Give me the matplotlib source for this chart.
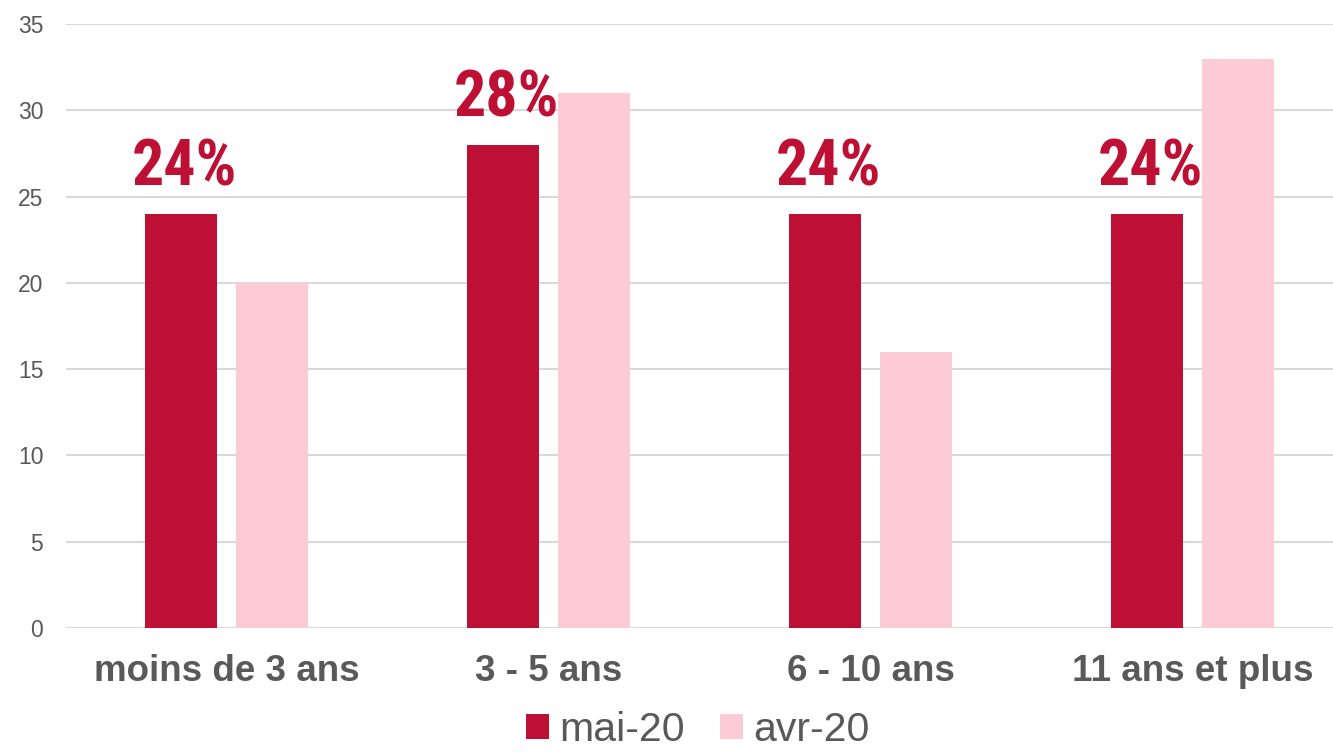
import matplotlib
matplotlib.use("Agg")
import matplotlib.pyplot as plt
import numpy as np

# data
categories = ["moins de 3 ans", "3 - 5 ans", "6 - 10 ans", "11 ans et plus"]
mai_20 = [24, 28, 24, 24]
avr_20 = [20, 31, 16, 33]
labels_mai = ["24%", "28%", "24%", "24%"]
series_names = ["mai-20", "avr-20"]

dark_red = "#BE0F34"
light_pink = "#FCCBD6"
grey_txt = "#595959"

plt.rcParams['font.family'] = ['Liberation Sans', 'DejaVu Sans']

fig = plt.figure(figsize=(13.33, 7.56), dpi=100)
ax = fig.add_axes([0.04914, 0.1693, 0.9662, 0.7989])

x = np.arange(len(categories))
w = 0.2236
off = 0.1413
b1 = ax.bar(x - off, mai_20, width=w, color=dark_red, label=series_names[0], zorder=3)
b2 = ax.bar(x + off, avr_20, width=w, color=light_pink, label=series_names[1], zorder=3)

# percent labels over the mai-20 bars (narrow bold face)
for xi, v, lab in zip(x, mai_20, labels_mai):
    ax.text(xi - off + 0.012, v + 0.9, lab, ha="center", va="bottom",
            fontsize=46, fontweight="bold", color=dark_red,
            family=['Roboto Condensed', 'DejaVu Sans'], stretch="condensed")

ax.set_xlim(-0.5, 3.5)
ax.set_ylim(0, 35)
ax.set_yticks(range(0, 36, 5))
ax.set_xticks(x)
ax.set_xticklabels(categories, fontsize=26.5, fontweight="bold", color=grey_txt)
ax.tick_params(axis="y", length=0, pad=16, labelsize=16.5, labelcolor=grey_txt)
ax.tick_params(axis="x", length=0, pad=19)

ax.yaxis.grid(True, color="#D9D9D9", linewidth=1.5, zorder=0)
ax.set_axisbelow(True)
for s in ax.spines.values():
    s.set_visible(False)

fig.legend(handles=[b1, b2], labels=series_names, loc="center",
           bbox_to_anchor=(698 / 1333, 0.034), ncol=2, frameon=False,
           fontsize=29.5, labelcolor=grey_txt, handlelength=0.55, handleheight=0.55,
           handletextpad=0.25, columnspacing=0.87, borderpad=0)

fig.savefig("out.png", dpi=100)
